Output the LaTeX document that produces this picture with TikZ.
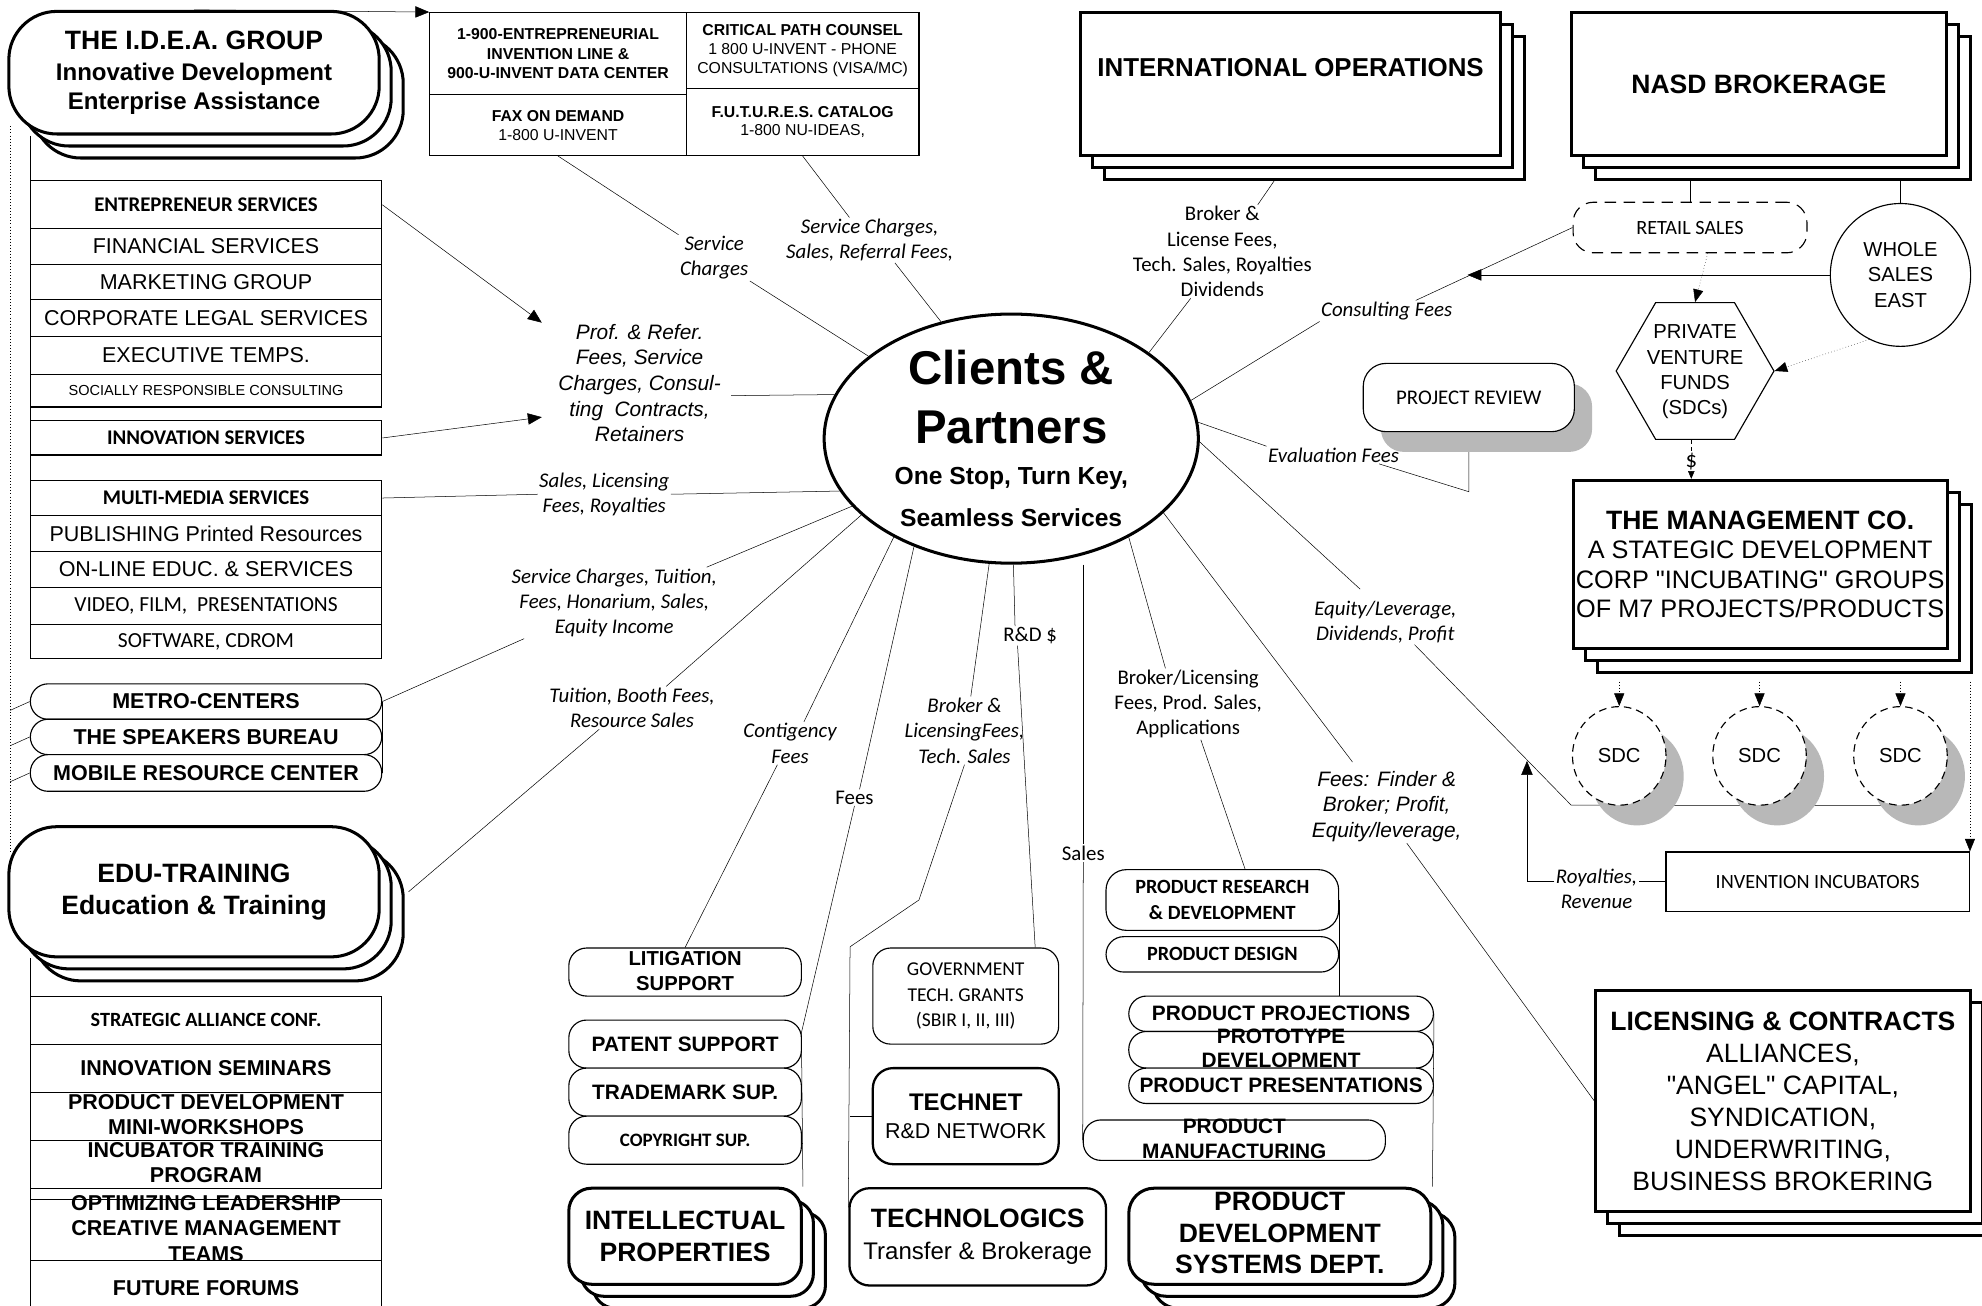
\documentclass[tikz,border=0pt]{standalone}
\usepackage{fontspec}
\setmainfont{Liberation Sans}
\newfontfamily\calfont{Carlito}
\newfontfamily\plainfont{Liberation Sans}[Ligatures=ResetAll]
\usetikzlibrary{arrows.meta,shapes.geometric,shadows}
\newcommand{\fs}[2]{\fontsize{#1}{#2}\selectfont}
\newcommand{\squeeze}[1]{\raisebox{-5pt}[0pt][0pt]{\begin{tabular}{@{}c@{}}#1\end{tabular}}}
\pgfdeclarelayer{bg}
\pgfsetlayers{bg,main}
\tikzset{
  cell/.style={draw, line width=0.9pt, fill=white, minimum width=278pt, inner sep=0pt, align=center},
  heavy/.style={draw, line width=2.4pt, fill=white, inner sep=0pt, align=center},
  stack/.style={copy shadow={shadow xshift=19pt, shadow yshift=-19pt},
    copy shadow={shadow xshift=9.5pt, shadow yshift=-9.5pt}},
  pill/.style={draw, line width=0.9pt, fill=white, rounded corners=14pt, inner sep=0pt, align=center},
  lbl/.style={inner sep=1pt, align=center, font=\calfont\itshape\fs{16.5}{20}},
  lblup/.style={inner sep=1pt, align=center, font=\calfont\fs{16.5}{20}},
  lblar/.style={inner sep=1pt, align=center, font=\itshape\fs{16.5}{20.25}},
  arr/.style={-{Triangle[length=11pt,width=9pt]}},
  darr/.style={dotted, -{Triangle[length=10pt,width=8pt]}},
  gshadow/.style={drop shadow={shadow xshift=14pt, shadow yshift=-16pt, fill=black!28, opacity=1}}
}
\begin{document}
\begin{tikzpicture}[x=1pt,y=-1pt,line width=1pt]
\useasboundingbox (0,0) rectangle (1568,1033);
\begin{pgfonlayer}{bg}
  \fill[white] (0,0) rectangle (1568,1033);
\end{pgfonlayer}
% left column: I.D.E.A. group
\node[heavy, stack, rounded corners=38pt, minimum width=293pt, minimum height=97pt, font=\bfseries\fs{19}{23}]
  (idea) at (153.5,57.5) {{\fs{21}{25}THE I.D.E.A. GROUP}\\[1pt]Innovative Development\\Enterprise Assistance};
\node[cell, minimum height=38pt, font=\calfont\bfseries\fs{16.5}{20}] (ent) at (163,162) {ENTREPRENEUR SERVICES};
\node[cell, minimum height=28pt, font=\fs{17}{20}] (fin) at (163,195) {FINANCIAL SERVICES};
\node[cell, minimum height=28pt, font=\fs{17}{20}] (mkt) at (163,223) {MARKETING GROUP};
\node[cell, minimum height=29pt, font=\fs{17}{20}] (corp) at (163,251.5) {CORPORATE LEGAL SERVICES};
\node[cell, minimum height=30pt, font=\fs{17}{20}] (exec) at (163,281) {EXECUTIVE TEMPS.};
\node[cell, minimum height=26pt, font=\fs{11.5}{14}] (soc) at (163,309) {SOCIALLY RESPONSIBLE CONSULTING};
\node[cell, minimum height=27pt, font=\calfont\bfseries\fs{16.5}{20}] (inno) at (163,346.5) {INNOVATION SERVICES};
\node[cell, minimum height=28pt, font=\calfont\bfseries\fs{16.5}{20}] (mm) at (163,394) {MULTI-MEDIA SERVICES};
\node[cell, minimum height=28pt, font=\fs{17}{20}] (pub) at (163,422) {PUBLISHING Printed Resources};
\node[cell, minimum height=29pt, font=\fs{17}{20}] (onl) at (163,450.5) {ON-LINE EDUC. \& SERVICES};
\node[cell, minimum height=29pt, font=\calfont\fs{17}{20}] (vid) at (163,479.5) {VIDEO, FILM,~ PRESENTATIONS};
\node[cell, minimum height=27pt, font=\calfont\fs{17}{20}] (sw) at (163,507.5) {SOFTWARE, CDROM};
\node[pill, minimum width=278pt, minimum height=28pt, font=\bfseries\fs{17}{20}] (metro) at (163,555) {METRO-CENTERS};
\node[pill, minimum width=278pt, minimum height=28pt, font=\bfseries\fs{17}{20}] (spk) at (163,583) {THE SPEAKERS BUREAU};
\node[pill, minimum width=278pt, minimum height=29pt, font=\bfseries\fs{17}{20}] (mob) at (163,611.5) {MOBILE RESOURCE CENTER};
% left column: education
\node[heavy, stack, rounded corners=38pt, minimum width=293pt, minimum height=103pt, font=\bfseries\fs{21}{25}]
  (edu) at (153.5,705.5) {EDU-TRAINING\\Education \& Training};
\node[cell, minimum height=38pt, font=\calfont\bfseries\fs{16}{20}] (sac) at (163,807) {STRATEGIC ALLIANCE CONF.};
\node[cell, minimum height=38pt, font=\bfseries\fs{17}{20}] (sem) at (163,845) {INNOVATION SEMINARS};
\node[cell, minimum height=38pt, font=\bfseries\fs{17}{20}] (pdw) at (163,883) {\squeeze{PRODUCT DEVELOPMENT\\MINI-WORKSHOPS}};
\node[cell, minimum height=38pt, font=\bfseries\fs{17}{20}] (itp) at (163,921) {\squeeze{INCUBATOR TRAINING\\PROGRAM}};
\node[cell, minimum height=48pt, font=\bfseries\fs{17}{20}] (opt) at (163,973) {\squeeze{OPTIMIZING LEADERSHIP\\CREATIVE MANAGEMENT\\TEAMS}};
\node[cell, minimum height=44pt, font=\bfseries\fs{17}{20}] (ff) at (163,1019) {FUTURE FORUMS};
% phone lines
\node[cell, minimum width=203pt, minimum height=65pt, font=\bfseries\fs{12.5}{15.5}] (p1) at (441.5,42.5)
  {1-900-ENTREPRENEURIAL\\INVENTION LINE \&\\900-U-INVENT DATA CENTER};
\node[cell, minimum width=203pt, minimum height=48pt, font=\fs{12.5}{15}] (p2) at (441.5,99) {\textbf{FAX ON DEMAND}\\1-800 U-INVENT};
\node[cell, minimum width=184pt, minimum height=60pt, font=\fs{12.5}{15}] (p3) at (635,40)
  {\textbf{CRITICAL PATH COUNSEL}\\1 800 U-INVENT - PHONE\\CONSULTATIONS (VISA/MC)};
\node[cell, minimum width=184pt, minimum height=53pt, font=\fs{12.5}{15}] (p4) at (635,96.5) {\textbf{F.U.T.U.R.E.S. CATALOG}\\1-800 NU-IDEAS,};
% hub
\node[ellipse, draw, line width=2.4pt, fill=white, minimum width=296pt, minimum height=194pt, inner sep=0pt, align=center, font=\bfseries\fs{19.5}{33}]
  (clients) at (800,347) {{\fs{37.5}{46}Clients \&}\\[13pt]{\fs{37.5}{46}Partners}\\One Stop, Turn Key,\\Seamless Services};
% bottom centre
\node[pill, minimum width=184pt, minimum height=38pt, font=\bfseries\fs{16}{20}] (lit) at (542,769) {\squeeze{LITIGATION\\SUPPORT}};
\node[pill, minimum width=184pt, minimum height=38pt, font=\bfseries\fs{16.5}{20}] (pat) at (542,826) {PATENT SUPPORT};
\node[pill, minimum width=184pt, minimum height=38pt, font=\bfseries\fs{16.5}{20}] (tm) at (542,864) {TRADEMARK SUP.};
\node[pill, minimum width=184pt, minimum height=38pt, font=\calfont\bfseries\fs{15}{18}] (cr) at (542,902) {COPYRIGHT SUP.};
\node[heavy, stack, rounded corners=18pt, minimum width=184pt, minimum height=76pt, font=\bfseries\fs{21}{25}] (ip) at (542,978) {INTELLECTUAL\\PROPERTIES};
\node[pill, minimum width=147pt, minimum height=76pt, font=\calfont\fs{15.5}{20.5}] (gov) at (764,788) {GOVERNMENT\\TECH. GRANTS\\(SBIR I, II, III)};
\node[heavy, line width=1.8pt, rounded corners=16pt, minimum width=147pt, minimum height=76pt, font=\fs{17}{22}] (technet) at (764,883)
  {{\bfseries\fs{19}{22}TECHNET}\\R\&D NETWORK};
\node[heavy, line width=1.8pt, rounded corners=16pt, minimum width=203pt, minimum height=77pt, font=\fs{19}{25}] (tlg) at (773.5,978.5)
  {{\bfseries\fs{21}{25}TECHNOLOGICS}\\Transfer \& Brokerage};
\node[pill, rounded corners=16pt, minimum width=184pt, minimum height=48pt, font=\calfont\bfseries\fs{16}{20}] (prd) at (967,712) {PRODUCT RESEARCH\\\& DEVELOPMENT};
\node[pill, minimum width=184pt, minimum height=28pt, font=\calfont\bfseries\fs{16}{20}] (pd) at (967,755) {PRODUCT DESIGN};
\node[pill, minimum width=241pt, minimum height=28pt, font=\bfseries\fs{16.5}{20}] (pp) at (1013.5,802) {PRODUCT PROJECTIONS};
\node[pill, minimum width=241pt, minimum height=29pt, font=\bfseries\fs{16.5}{19}] (proto) at (1013.5,830.5) {\squeeze{PROTOTYPE\\DEVELOPMENT}};
\node[pill, minimum width=241pt, minimum height=28pt, font=\bfseries\fs{16.5}{20}] (pres) at (1013.5,859) {PRODUCT PRESENTATIONS};
\node[pill, minimum width=239pt, minimum height=32pt, font=\bfseries\fs{16.5}{20}] (pm) at (976.5,902) {\squeeze{PRODUCT\\MANUFACTURING}};
\node[heavy, stack, rounded corners=20pt, minimum width=239pt, minimum height=76pt, font=\bfseries\fs{21}{25}] (pds) at (1012.5,978)
  {\squeeze{PRODUCT\\DEVELOPMENT\\SYSTEMS DEPT.}};
% right side
\node[heavy, stack, minimum width=332pt, minimum height=113pt, text depth=26pt, font=\bfseries\fs{20.5}{24}] (intl) at (1021,66.5) {INTERNATIONAL OPERATIONS};
\node[heavy, stack, minimum width=297pt, minimum height=113pt, font=\bfseries\fs{21}{24}] (nasd) at (1391.5,66.5) {NASD BROKERAGE};
\node[draw, dash pattern=on 9pt off 6pt, line width=0.9pt, rounded corners=16pt, fill=white, minimum width=185pt, minimum height=40pt,
  font=\calfont\fs{16}{20}] (retail) at (1337,180) {RETAIL SALES};
\node[ellipse, draw, line width=0.9pt, fill=white, minimum width=111pt, minimum height=113pt, inner sep=0pt, align=center,
  font=\fs{16}{20}] (whole) at (1503.5,217.5) {WHOLE\\SALES\\EAST};
\node[regular polygon, regular polygon sides=6, draw, line width=0.9pt, fill=white, minimum size=118pt, inner sep=0pt, align=center,
  font=\fs{16}{20}] (pvf) at (1341,293.5) {\squeeze{PRIVATE\\VENTURE\\FUNDS\\(SDCs)}};
\node[pill, rounded corners=18pt, minimum width=167pt, minimum height=54pt, gshadow, font=\calfont\fs{16.5}{20}] (prj) at (1162,314.5) {PROJECT REVIEW};
\node[heavy, stack, minimum width=296pt, minimum height=133pt, font=\plainfont\fs{20}{23.3}] (mgmt) at (1392.5,446.5)
  {{\bfseries\fs{21}{23.3}THE MANAGEMENT CO.}\\A STATEGIC DEVELOPMENT\\CORP "INCUBATING" GROUPS\\OF M7 PROJECTS/PRODUCTS};
\foreach \i/\x in {1/1281,2/1392,3/1503.5}
  \node[ellipse, draw, dash pattern=on 6pt off 4pt, line width=0.9pt, fill=white, minimum width=74pt, minimum height=78pt,
    gshadow, font=\fs{16}{20}] (sdc\i) at (\x,598) {SDC};
\node[cell, minimum width=240pt, minimum height=47pt, font=\calfont\fs{16}{20}] (inc) at (1438,697.5) {INVENTION INCUBATORS};
\node[heavy, stack, minimum width=296pt, minimum height=175pt, font=\plainfont\fs{21}{25.3}] (lic) at (1410.5,871)
  {{\bfseries LICENSING \& CONTRACTS}\\ALLIANCES,\\"ANGEL" CAPITAL,\\SYNDICATION,\\UNDERWRITING,\\BUSINESS BROKERING};
% flow labels
\node[lbl] (lsc) at (565,204) {Service\\Charges};
\node[lbl] (lss) at (688,190) {Service Charges,\\Sales, Referral Fees,};
\node[lblup] (lbr) at (967,199) {Broker \&\\License Fees,\\Tech. Sales, Royalties\\Dividends};
\node[lbl] (lcf) at (1097,246) {Consulting Fees};
\node[lbl] (lev) at (1055,360) {Evaluation Fees};
\node[lbl] (leq) at (1096,492) {Equity/Leverage,\\Dividends, Profit};
\node[lblar] (lff) at (1097,638) {Fees: Finder \&\\Broker; Profit,\\Equity/leverage,};
\node[lblup] (lbl2) at (940,557) {Broker/Licensing\\Fees, Prod. Sales,\\Applications};
\node[lblup] (lsales) at (857,675) {Sales};
\node[lblup] (lrd) at (815,503) {R\&D \$};
\node[lbl] (lbt) at (763,578) {Broker \&\\LicensingFees,\\Tech. Sales};
\node[lblup] (lfees) at (676,631) {Fees};
\node[lbl] (lcont) at (625,588) {Contigency\\Fees};
\node[lbl] (ltui) at (500,560) {Tuition, Booth Fees,\\Resource Sales};
\node[lbl] (lsct) at (486,477) {Service Charges, Tuition,\\Fees, Honarium, Sales,\\Equity Income};
\node[lbl] (lslf) at (478,391) {Sales, Licensing\\Fees, Royalties};
\node[lblar] (lprof) at (506,303) {Prof. \& Refer.\\Fees, Service\\Charges, Consul-\\ting~ Contracts,\\Retainers};
\node[lbl] (lroy) at (1263,703) {Royalties,\\Revenue};
\node[lblup, font=\calfont\fs{18}{20}] (ldol) at (1338,365) {\$};
% bend points
\coordinate (dtop) at (8,100);
\coordinate (dbot) at (8,675);
\coordinate (evk) at (1162,389);
\coordinate (eqk) at (1243,637);
\coordinate (bk1) at (727,712);
\coordinate (bk2) at (672.5,749);
\coordinate (fk) at (634,817);
\coordinate (roytip) at (1208,602);
\begin{pgfonlayer}{bg}
  \draw[dotted] (dtop) -- (dbot);
  \foreach \b in {metro,spk,mob}
    \draw (\b.west) -- ([yshift=-7pt]\b.west -| dtop);
  \draw (ent.north west |- idea.south) -- (sw.south west);
  \draw (sac.north west |- edu.south) -- (ff.south west);
  \draw (metro.east) -- (mob.east);
  \draw[arr] (idea.north) -- (p1.north west);
  % to the hub
  \draw (p2.south) -- (lsc.north west);
  \draw (lsc.south east) -- (clients.150.4);
  \draw (p4.south) -- ([xshift=-16pt]lss.north);
  \draw ([xshift=20pt]lss.south) -- (clients.121);
  \draw (intl.south) -- ([xshift=28pt]lbr.north);
  \draw ([xshift=-25pt]lbr.south) -- (clients.32.5);
  \draw (clients.12.7) -- (lcf.south west);
  \draw ([xshift=-30pt]lcf.north east) coordinate (cfa) -- (retail.west);
  \path (cfa) -- (retail.west) coordinate[pos=0.33] (cfm);
  \draw[arr] (whole.west) -- (whole.west -| cfm);
  \draw (clients.5.6) -- (lev.north west);
  \draw ([xshift=-17pt]lev.south east) -- (evk) -- (prj.south);
  \draw (clients.-1) -- ([xshift=-20pt,yshift=8pt]leq.north);
  \draw ([xshift=23pt]leq.south) -- (eqk) -- (sdc3.south);
  \draw (clients.-26.6) -- ([shift={(-27,-6)}]lff.north);
  \draw ([xshift=16pt]lff.south) -- (lic.west);
  \draw (clients.-40.4) -- ([xshift=-18pt]lbl2.north);
  \draw ([xshift=10pt]lbl2.south) -- ([xshift=18pt]prd.north);
  \draw (clients.south -| lsales.north) -- (lsales.north);
  \draw (lsales.south) -- (pm.west);
  \draw (clients.-89) -- ([xshift=-12pt]lrd.north);
  \draw ([xshift=-10pt]lrd.south) -- ([xshift=-19pt]gov.north east);
  \draw (clients.-100.9) -- ([xshift=5pt]lbt.north);
  \draw (lbt.south) -- (bk1) -- (bk2) -- ([yshift=-16pt]tlg.north west);
  \draw (technet.west) -- (technet.west -| bk2);
  \draw (clients.-132.6) -- ([xshift=4pt]lfees.north);
  \draw (lfees.south) -- (fk) -- (ip.north east);
  \draw (clients.-140.3) -- ([xshift=11pt]lcont.north);
  \draw ([xshift=-10pt]lcont.south) -- (lit.north);
  \draw (clients.-153.6) -- ([xshift=27pt]ltui.north);
  \draw ([xshift=-26pt]ltui.south) -- ([xshift=22pt]edu.east);
  \draw (clients.-157.7) -- ([xshift=73pt]lsct.north);
  \draw ([xshift=11pt]lsct.south west) -- (metro.east);
  \draw (mm.east) -- (lslf.west);
  \draw (lslf.east) -- (clients.-163.7);
  \draw[arr] (ent.east) -- ([xshift=-12pt]lprof.north west);
  \draw[arr] (inno.east) -- ([shift={(-12,27)}]lprof.west);
  \draw (clients.166.3) -- ([shift={(7,10)}]lprof.east);
  % product groups
  \draw (prd.east) -- (prd.east |- pp.north);
  \draw (pp.east) -- (pds.north east);
  % brokerage and management
  \draw (retail.north |- nasd.south) -- (retail.north);
  \draw (whole.north |- nasd.south) -- (whole.north);
  \draw[darr] ([xshift=14pt]retail.south) -- (pvf.north);
  \draw[darr] (whole.-116) -- (pvf.east);
  \draw[dashed] (pvf.south -| ldol) -- (ldol.north);
  \draw[dashed, -{Triangle[length=6pt,width=5pt]}] (ldol.south) -- (ldol.south |- mgmt.north);
  \foreach \i in {1,2,3}
    \draw[darr] ([yshift=-25pt]sdc\i.north |- mgmt.south) -- (sdc\i.north);
  \draw[darr] ([yshift=-25pt]inc.north east |- mgmt.south) -- (inc.north east);
  \draw (inc.west) -- (inc.west -| lroy.east);
  \draw[arr] (inc.west -| lroy.west) -| (roytip);
\end{pgfonlayer}
\end{tikzpicture}
\end{document}
